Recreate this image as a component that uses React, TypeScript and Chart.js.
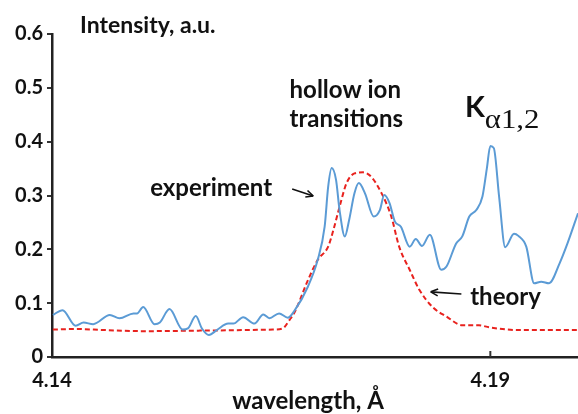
import React, { useEffect, useRef } from "react";
import { Chart, registerables } from "chart.js";

Chart.register(...registerables);

// Experiment (blue solid)
const expWavelength = [
  4.1401, 4.1412, 4.1427, 4.1436, 4.1447, 4.1466, 4.1477, 4.1493, 4.1497, 4.1504,
  4.1517, 4.1523, 4.1534, 4.1549, 4.1555, 4.1564, 4.1571, 4.1579, 4.1588, 4.1601,
  4.1607, 4.1618, 4.1631, 4.1641, 4.1648, 4.1659, 4.1669, 4.1677, 4.1692, 4.1703,
  4.1711, 4.1715, 4.1719, 4.1724, 4.1728, 4.1734, 4.1739, 4.1745, 4.1750, 4.1757,
  4.1767, 4.1774, 4.1779, 4.1785, 4.1791, 4.1798, 4.1808, 4.1815, 4.1822, 4.1831,
  4.1844, 4.1850, 4.1861, 4.1868, 4.1876, 4.1884, 4.1891, 4.1896, 4.1900, 4.1904,
  4.1910, 4.1917, 4.1927, 4.1932, 4.1941, 4.1950, 4.1958, 4.1967, 4.1979, 4.1988,
  4.2000,
];
const expIntensity = [
  0.078, 0.087, 0.058, 0.064, 0.061, 0.078, 0.072, 0.081, 0.081, 0.093,
  0.061, 0.064, 0.089, 0.051, 0.053, 0.076, 0.053, 0.041, 0.050, 0.062,
  0.062, 0.074, 0.062, 0.079, 0.072, 0.081, 0.073, 0.087, 0.131, 0.180,
  0.242, 0.316, 0.351, 0.329, 0.273, 0.224, 0.255, 0.304, 0.323, 0.304,
  0.261, 0.273, 0.301, 0.286, 0.252, 0.242, 0.205, 0.219, 0.206, 0.227,
  0.162, 0.168, 0.211, 0.224, 0.261, 0.273, 0.298, 0.350, 0.392, 0.388,
  0.298, 0.204, 0.229, 0.225, 0.205, 0.137, 0.140, 0.137, 0.174, 0.211,
  0.267,
];

// Theory (red dashed)
const theoryWavelength = [
  4.1401, 4.1428, 4.1460, 4.1508, 4.1569, 4.1652, 4.1663, 4.1671, 4.1677, 4.1692,
  4.1703, 4.1715, 4.1722, 4.1728, 4.1736, 4.1745, 4.1755, 4.1764, 4.1776, 4.1787,
  4.1796, 4.1808, 4.1819, 4.1834, 4.1850, 4.1868, 4.1887, 4.1899, 4.1934, 4.2000,
];
const theoryIntensity = [
  0.051, 0.052, 0.050, 0.048, 0.049, 0.051, 0.053, 0.069, 0.084, 0.143,
  0.180, 0.205, 0.242, 0.279, 0.323, 0.341, 0.343, 0.335, 0.304, 0.261,
  0.205, 0.162, 0.125, 0.093, 0.075, 0.059, 0.059, 0.055, 0.050, 0.050,
];

const xTickValues = [4.14, 4.19];
const yTickValues = [0, 0.1, 0.2, 0.3, 0.4, 0.5, 0.6];

const FONT = "Lato, 'Open Sans', sans-serif";
const INK = "#111111";

const annotationPlugin = {
  id: "annotations",
  afterDraw(chart: any) {
    const ctx = chart.ctx;
    const xs = chart.scales.x;
    const ys = chart.scales.y;
    const px = (v: number) => xs.getPixelForValue(v);
    const py = (v: number) => ys.getPixelForValue(v);
    ctx.save();
    ctx.fillStyle = INK;
    ctx.textBaseline = "middle";
    ctx.textAlign = "left";

    // inward tick marks on x axis
    ctx.strokeStyle = "#333";
    ctx.lineWidth = 2;
    xTickValues.slice(1).forEach((v) => {
      ctx.beginPath();
      ctx.moveTo(px(v), chart.chartArea.bottom);
      ctx.lineTo(px(v), chart.chartArea.bottom - 6);
      ctx.stroke();
    });

    ctx.font = `bold 23px ${FONT}`;
    ctx.fillText("Intensity, a.u.", px(4.1432), py(0.615));
    ctx.font = `bold 24px ${FONT}`;
    ctx.fillText("hollow ion", px(4.1671), py(0.496));
    ctx.fillText("transitions", px(4.1671), py(0.442));
    ctx.fillText("experiment", px(4.1512), py(0.314));
    ctx.fillText("theory", px(4.1877), py(0.111));

    ctx.font = `bold 29px ${FONT}`;
    ctx.fillText("K", px(4.1871), py(0.463));
    const kw = ctx.measureText("K").width;
    ctx.font = `27px 'Liberation Serif', 'DejaVu Serif', serif`;
    const sub = "\u03b11,2";
    const sw = ctx.measureText(sub).width;
    const startX = px(4.1871) + kw;
    const targetW = px(4.1956) - startX;
    ctx.save();
    ctx.translate(startX, py(0.438));
    ctx.scale(targetW / sw, 1);
    ctx.fillText(sub, 0, 0);
    ctx.restore();

    // x axis title
    ctx.font = `bold 24px ${FONT}`;
    ctx.textAlign = "center";
    ctx.fillText("wavelength, \u00c5", px(4.1692), 401);

    // arrows
    const arrow = (x1: number, y1: number, x2: number, y2: number) => {
      const ax = px(x1), ay = py(y1), bx = px(x2), by = py(y2);
      ctx.strokeStyle = INK;
      ctx.fillStyle = INK;
      ctx.lineWidth = 1.6;
      ctx.beginPath();
      ctx.moveTo(ax, ay);
      ctx.lineTo(bx, by);
      ctx.stroke();
      const ang = Math.atan2(by - ay, bx - ax);
      const L = 8, W = 0.45;
      ctx.beginPath();
      ctx.moveTo(bx, by);
      ctx.lineTo(bx - L * Math.cos(ang - W), by - L * Math.sin(ang - W));
      ctx.moveTo(bx, by);
      ctx.lineTo(bx - L * Math.cos(ang + W), by - L * Math.sin(ang + W));
      ctx.stroke();
    };
    arrow(4.1674, 0.312, 4.1698, 0.299);
    arrow(4.1867, 0.117, 4.1832, 0.121);
    ctx.restore();
  },
};

export default function App() {
  const ref = useRef<HTMLCanvasElement | null>(null);
  useEffect(() => {
    document.body.style.margin = "0";
    const canvas = ref.current;
    if (!canvas) return;
    const chart = new Chart(canvas, {
      type: "line",
      data: {
        datasets: [
          {
            label: "experiment",
            data: expWavelength.map((x, i) => ({ x, y: expIntensity[i] })),
            borderColor: "#5b9bd5",
            borderWidth: 2,
            pointRadius: 0,
            cubicInterpolationMode: "monotone",
            fill: false,
          },
          {
            label: "theory",
            data: theoryWavelength.map((x, i) => ({ x, y: theoryIntensity[i] })),
            borderColor: "#e8221e",
            borderWidth: 2,
            borderDash: [5, 3],
            pointRadius: 0,
            cubicInterpolationMode: "monotone",
            fill: false,
          },
        ],
      },
      options: {
        animation: false,
        responsive: false,
        devicePixelRatio: 1,
        layout: { padding: { top: 34, right: 0, left: 0, bottom: 0 } },
        plugins: { legend: { display: false }, tooltip: { enabled: false } },
        scales: {
          x: {
            type: "linear",
            min: 4.14,
            max: 4.2,
            afterBuildTicks: (s: any) => {
              s.ticks = xTickValues.map((v) => ({ value: v }));
            },
            afterFit: (s: any) => {
              s.height = 57;
            },
            ticks: {
              autoSkip: false,
              maxRotation: 0,
              padding: 12,
              color: INK,
              font: { family: FONT, size: 20, weight: "bold" },
              callback: (v: any) => Number(v).toFixed(2),
            },
            grid: { display: true, drawOnChartArea: false, drawTicks: false },
            border: { display: true, color: "#222", width: 2.5 },
          },
          y: {
            min: 0,
            max: 0.6,
            afterBuildTicks: (s: any) => {
              s.ticks = yTickValues.map((v) => ({ value: v }));
            },
            afterFit: (s: any) => {
              s.width = 52;
            },
            ticks: {
              padding: 4,
              color: INK,
              font: { family: FONT, size: 20, weight: "bold" },
              callback: (v: any) => (Number(v) === 0 ? "0" : Number(v).toFixed(1)),
            },
            grid: {
              display: true,
              drawOnChartArea: false,
              drawTicks: true,
              tickLength: 5,
              color: "#333",
              lineWidth: 2,
            },
            border: { display: true, color: "#222", width: 2.5 },
          },
        },
      },
      plugins: [annotationPlugin],
    } as any);
    return () => chart.destroy();
  }, []);
  return (
    <div style={{ position: "absolute", left: 0, top: 0, width: 578, height: 414, background: "#fff" }}>
      <canvas ref={ref} width={578} height={414} />
    </div>
  );
}
